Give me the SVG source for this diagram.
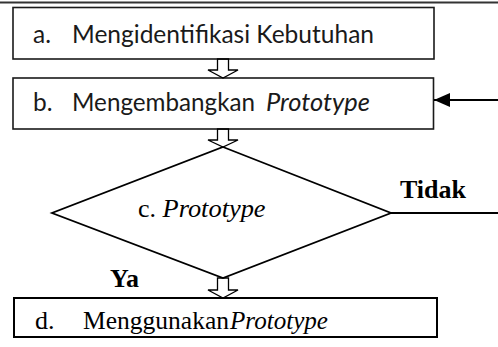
<svg xmlns="http://www.w3.org/2000/svg" width="498" height="347" viewBox="0 0 498 347">
<style>
.box{fill:#fff;stroke:#1a1a1a;stroke-width:1.6}
.sans{font-family:Lato,"Liberation Sans",sans-serif;font-size:24.5px;fill:#1a1a1a}
.serif{font-family:"Liberation Serif","Times New Roman",serif;font-size:26px;fill:#000}
.it{font-style:italic}
.bold{font-weight:bold}
.hollow{fill:none;stroke:#000;stroke-width:1.3}
.line{fill:none;stroke:#000;stroke-width:1.8}
</style>
<defs>
<marker id="ah" viewBox="0 0 16 14" refX="16" refY="7" markerWidth="16" markerHeight="14" markerUnits="userSpaceOnUse" orient="auto">
<path d="M0,0 L16,7 L0,14 Z" fill="#000"/>
</marker>
</defs>
<line x1="0" y1="2.5" x2="498" y2="2.5" stroke="#333" stroke-width="2"/>
<g id="node-a">
<rect class="box" x="13" y="7.5" width="421" height="51.5"/>
<text class="sans" y="43"><tspan x="33">a.</tspan><tspan x="72" textLength="302" lengthAdjust="spacingAndGlyphs">Mengidentifikasi Kebutuhan</tspan></text>
</g>
<g id="node-b">
<rect class="box" x="13" y="78" width="420.5" height="51"/>
<text class="sans" y="111"><tspan x="33">b.</tspan><tspan x="72" textLength="183" lengthAdjust="spacingAndGlyphs">Mengembangkan</tspan><tspan x="266" class="it" textLength="104" lengthAdjust="spacingAndGlyphs">Prototype</tspan></text>
</g>
<g id="node-c">
<polygon points="223,147 391,213 223,278 52,213" fill="none" stroke="#000" stroke-width="1.8"/>
<text class="serif" y="217"><tspan x="138">c. </tspan><tspan class="it" textLength="103" lengthAdjust="spacingAndGlyphs">Prototype</tspan></text>
</g>
<g id="node-d">
<rect x="14" y="298" width="423" height="39" fill="#fff" stroke="#000" stroke-width="2"/>
<text class="serif" y="329"><tspan x="35">d.</tspan><tspan x="83" textLength="146" lengthAdjust="spacingAndGlyphs">Menggunakan</tspan><tspan x="230" class="it" textLength="98" lengthAdjust="spacingAndGlyphs">Prototype</tspan></text>
</g>
<g id="connectors">
<polygon class="hollow" points="217.5,59 228.5,59 228.5,70 238,70 223,78 208,70 217.5,70"/>
<polygon class="hollow" points="217.5,129 228.5,129 228.5,140 238,140 223,147 208,140 217.5,140"/>
<polygon class="hollow" points="217.5,278 228.5,278 228.5,290 238,290 223,298 208,290 217.5,290"/>
<line class="line" x1="391" y1="213" x2="498" y2="213"/>
<line class="line" x1="498" y1="100" x2="434" y2="100" marker-end="url(#ah)"/>
<text class="serif bold" x="400" y="198">Tidak</text>
<text class="serif bold" x="110" y="287">Ya</text>
</g>
</svg>
